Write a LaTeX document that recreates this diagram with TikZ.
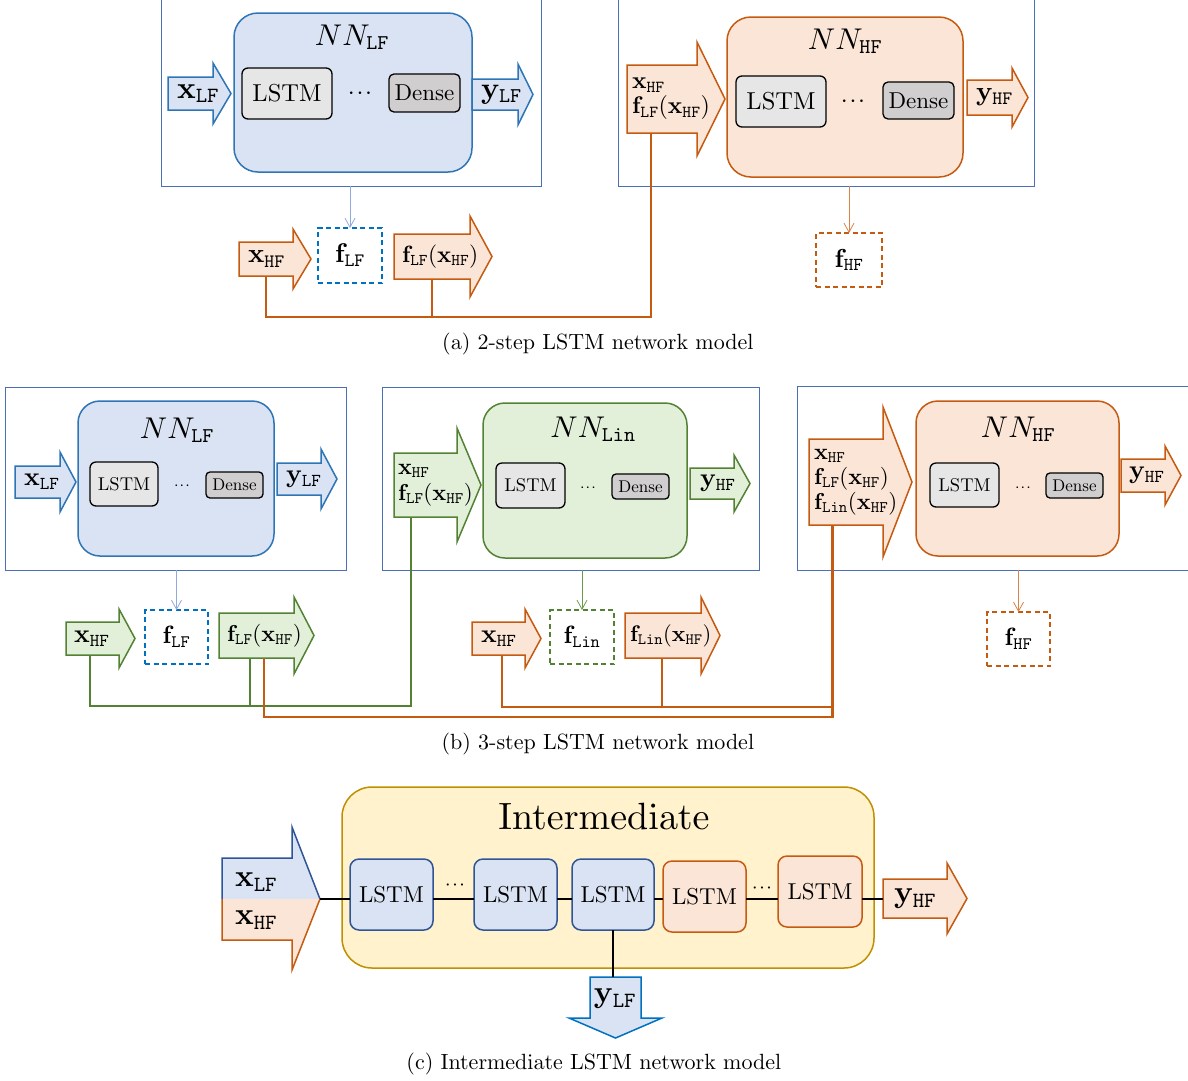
\RequirePackage{fix-cm}
\documentclass[tikz,border=0pt]{standalone}
\usetikzlibrary{arrows.meta,calc}
\DeclareFontShape{OT1}{cmr}{m}{n}{<->cmr10}{}
\DeclareFontShape{OT1}{cmr}{bx}{n}{<->cmbx10}{}
\DeclareFontShape{OML}{cmm}{m}{it}{<->cmmi10}{\skewchar\font127 }
\DeclareFontShape{OT1}{cmtt}{m}{n}{<->cmtt10}{\hyphenchar\font=-1 }
\DeclareFontShape{OMS}{cmsy}{m}{n}{<->cmsy10}{\skewchar\font48 }
\definecolor{bfill}{HTML}{DAE3F3}
\definecolor{bline}{HTML}{2E75B6}
\definecolor{bline2}{HTML}{0070C0}
\definecolor{dblue}{HTML}{2F5597}
\definecolor{ofill}{HTML}{FBE5D6}
\definecolor{oline}{HTML}{C55A11}
\definecolor{gfill}{HTML}{E2F0D9}
\definecolor{gline}{HTML}{548235}
\definecolor{yfill}{HTML}{FFF2CC}
\definecolor{yline}{HTML}{BF9000}
\definecolor{lgray}{HTML}{E7E6E6}
\definecolor{dgray}{HTML}{D0CECE}
\definecolor{framec}{HTML}{4A6FB5}
\definecolor{thinb}{HTML}{8FAADC}
\definecolor{thing}{HTML}{6A9A4A}
\definecolor{thino}{HTML}{D9824A}
\newcommand{\fsz}[1]{\fontsize{#1}{#1}\selectfont}
% name, style, x0, x1, x2, ybody-top, ybody-bottom, head-extend
\newcommand{\barrow}[8]{%
  \draw[#2] (#3,#6) -- (#4,#6) -- (#4,{#6-#8}) -- (#5,{(#6+#7)/2}) -- (#4,{#7+#8}) -- (#4,#7) -- (#3,#7) -- cycle;
  \node[inner sep=0pt, outer sep=0pt, minimum width={#4-#3}, minimum height={#7-#6}, anchor=north west] (#1) at (#3,#6) {};
}
\tikzset{
  frm/.style={draw=framec, line width=1pt, inner sep=0pt, outer sep=0pt},
  nnbox/.style={rounded corners=24pt, line width=1.5pt, inner sep=0pt, outer sep=0pt},
  lstmbox/.style={draw=black, fill=lgray, rounded corners=6pt, line width=1.3pt, inner sep=0pt, outer sep=0pt},
  densebox/.style={draw=black, fill=dgray, rounded corners=5pt, line width=1.3pt, inner sep=0pt, outer sep=0pt},
  dbox/.style={dash pattern=on 5pt off 3.5pt, line width=1.5pt, inner sep=0pt, outer sep=0pt},
  barB/.style={fill=bfill, draw=bline, line width=1.5pt},
  barO/.style={fill=ofill, draw=oline, line width=1.5pt},
  barG/.style={fill=gfill, draw=gline, line width=1.5pt},
  conn/.style={line width=2.5pt},
  cconn/.style={line width=2pt, draw=black},
  thinarr/.style={line width=0.8pt, -{Straight Barb[length=9pt,width=10pt]}},
  atext/.style={anchor=west, inner sep=0pt, outer sep=0pt},
  mtext/.style={anchor=west, inner sep=0pt, outer sep=0pt, align=left},
  cell/.style={rounded corners=9pt, line width=1.5pt, inner sep=0pt, outer sep=0pt, minimum width=83, minimum height=71, font={\fsz{23}}},
  captext/.style={font={\fsz{22}}, inner sep=0pt},
  dotsn/.style={inner sep=0pt, outer sep=0pt},
}
\begin{document}
\fontencoding{OT1}\fontfamily{cmr}\selectfont
\begin{tikzpicture}[x=1pt,y=-1pt]
\useasboundingbox (0,0) rectangle (1188,1080);
\clip (0,0) rectangle (1188,1080);
\fill[white] (0,0) rectangle (1188,1080);

% ================= (a) =================
\node[frm, minimum width=380, minimum height=190] (frA1) at (351,91) {};
\node[frm, minimum width=416, minimum height=190] (frA2) at (826,91) {};

\node[nnbox, fill=bfill, draw=bline, minimum width=238, minimum height=159] (nnA1) at (353,92.5) {};
\node[font={\fsz{30}}, inner sep=0pt] (nnA1-t) at (352,37) {$NN_{\mathtt{LF}}$};
\node[lstmbox, minimum width=90, minimum height=51, font={\fsz{24.5}}] (lstmA1) at (287,93.5) {LSTM};
\node[dotsn, font={\fsz{17}\boldmath}] (dotsA1) at (360,93) {$\cdots$};
\node[densebox, minimum width=71, minimum height=38, font={\fsz{23}}] (denseA1) at (424.5,93) {Dense};
\barrow{xlfA}{barB}{168}{213}{231}{77}{110}{14}
\node[atext, font={\fsz{31}}] (xlfA-t) at ([xshift=9]xlfA.west) {$\mathbf{x}_{\mathtt{LF}}$};
\barrow{ylfA}{barB}{472}{518}{533}{79}{110}{15}
\node[atext, font={\fsz{30}}] (ylfA-t) at ([xshift=9]ylfA.west) {$\mathbf{y}_{\mathtt{LF}}$};

\node[nnbox, fill=ofill, draw=oline, minimum width=236, minimum height=160] (nnA2) at (845,97) {};
\node[font={\fsz{30}}, inner sep=0pt] (nnA2-t) at (845,41) {$NN_{\mathtt{HF}}$};
\node[lstmbox, minimum width=90, minimum height=51, font={\fsz{24.5}}] (lstmA2) at (781,101.5) {LSTM};
\node[dotsn, font={\fsz{17}\boldmath}] (dotsA2) at (853,101) {$\cdots$};
\node[densebox, minimum width=71, minimum height=37, font={\fsz{23}}] (denseA2) at (918.5,100.5) {Dense};
\barrow{inA2}{barO}{627}{697}{725}{65}{133}{23}
\node[mtext, font={\fontsize{24}{25}\selectfont}] (inA2-t) at ([xshift=5]inA2.west) {$\mathbf{x}_{\mathtt{HF}}$\\$\mathbf{f}_{\mathtt{LF}}(\mathbf{x}_{\mathtt{HF}})$};
\barrow{yhfA}{barO}{967}{1012}{1028}{80}{115}{12}
\node[atext, font={\fsz{27}}] (yhfA-t) at ([xshift=9]yhfA.west) {$\mathbf{y}_{\mathtt{HF}}$};

% lower (a)
\barrow{xhfA}{barO}{239}{293}{311}{242}{276}{13}
\node[atext, font={\fsz{27}}] (xhfA-t) at ([xshift=9]xhfA.west) {$\mathbf{x}_{\mathtt{HF}}$};
\node[dbox, draw=bline2, minimum width=64, minimum height=55, font={\fsz{27}}] (fLFa) at (350,255.5) {$\mathbf{f}_{\mathtt{LF}}$};
\barrow{flfxA}{barO}{394}{470}{492}{234}{279}{18}
\node[atext, font={\fsz{23.5}}] (flfxA-t) at ([xshift=8]flfxA.west) {$\mathbf{f}_{\mathtt{LF}}(\mathbf{x}_{\mathtt{HF}})$};
\node[dbox, draw=oline, minimum width=66, minimum height=54, font={\fsz{26}}] (fHFa) at (849,260) {$\mathbf{f}_{\mathtt{HF}}$};

\draw[thinarr, draw=thinb] (frA1.south -| fLFa.north) -- (fLFa.north);
\draw[thinarr, draw=thino] (frA2.south -| fHFa.north) -- (fHFa.north);

\coordinate (busA) at (0,317);
\coordinate (inA2-p) at ($(inA2.south west)!0.34!(inA2.south east)$);
\draw[conn, draw=oline] (xhfA.south) -- (xhfA.south |- busA) -- (busA -| inA2-p) -- (inA2-p);
\draw[conn, draw=oline] (flfxA.south) -- (flfxA.south |- busA);

\node[captext] (capA) at (598,344) {(a) 2-step LSTM network model};

% ================= (b) =================
\node[frm, minimum width=341, minimum height=183] (frB1) at (175.5,478.5) {};
\node[frm, minimum width=377, minimum height=183] (frB2) at (570.5,478.5) {};
\node[frm, minimum width=400, minimum height=184] (frB3) at (997,478) {};

% NN_LF
\node[nnbox, fill=bfill, draw=bline, rounded corners=22pt, minimum width=196, minimum height=155] (nnB1) at (176,478.5) {};
\node[font={\fsz{30}}, inner sep=0pt] (nnB1-t) at (177,430) {$NN_{\mathtt{LF}}$};
\node[lstmbox, minimum width=68, minimum height=44, font={\fsz{18.5}}] (lstmB1) at (124,484) {LSTM};
\node[dotsn, font={\fsz{11}\boldmath}] (dotsB1) at (182,486) {$\cdots$};
\node[densebox, minimum width=57, minimum height=26, rounded corners=4pt, font={\fsz{17}}] (denseB1) at (234.5,485) {Dense};
\barrow{xlfB}{barB}{15}{60}{76}{466}{498}{14}
\node[atext, font={\fsz{26}}] (xlfB-t) at ([xshift=9]xlfB.west) {$\mathbf{x}_{\mathtt{LF}}$};
\barrow{ylfB}{barB}{277}{321}{337}{463}{495}{14}
\node[atext, font={\fsz{26}}] (ylfB-t) at ([xshift=9]ylfB.west) {$\mathbf{y}_{\mathtt{LF}}$};

% NN_Lin
\node[nnbox, fill=gfill, draw=gline, rounded corners=22pt, minimum width=204, minimum height=155] (nnB2) at (585,480.5) {};
\node[font={\fsz{30}}, inner sep=0pt] (nnB2-t) at (593,429) {$NN_{\mathtt{Lin}}$};
\node[lstmbox, minimum width=69, minimum height=45, font={\fsz{18.5}}] (lstmB2) at (530.5,485.5) {LSTM};
\node[dotsn, font={\fsz{11}\boldmath}] (dotsB2) at (588,488) {$\cdots$};
\node[densebox, minimum width=57, minimum height=25, rounded corners=4pt, font={\fsz{17}}] (denseB2) at (640.5,486.5) {Dense};
\barrow{inB2}{barG}{394}{457}{481}{453}{517}{25}
\node[mtext, font={\fontsize{23}{26}\selectfont}] (inB2-t) at ([xshift=4]inB2.west) {$\mathbf{x}_{\mathtt{HF}}$\\$\mathbf{f}_{\mathtt{LF}}(\mathbf{x}_{\mathtt{HF}})$};
\barrow{yhfB2}{barG}{690}{734}{750}{468}{499}{13}
\node[atext, font={\fsz{26}}] (yhfB2-t) at ([xshift=10]yhfB2.west) {$\mathbf{y}_{\mathtt{HF}}$};

% NN_HF
\node[nnbox, fill=ofill, draw=oline, rounded corners=22pt, minimum width=203, minimum height=155] (nnB3) at (1017.5,478.5) {};
\node[font={\fsz{30}}, inner sep=0pt] (nnB3-t) at (1018,429) {$NN_{\mathtt{HF}}$};
\node[lstmbox, minimum width=69, minimum height=44, font={\fsz{18.5}}] (lstmB3) at (964.5,485) {LSTM};
\node[dotsn, font={\fsz{11}\boldmath}] (dotsB3) at (1023,488) {$\cdots$};
\node[densebox, minimum width=57, minimum height=25, rounded corners=4pt, font={\fsz{17}}] (denseB3) at (1074.5,485.5) {Dense};
\barrow{inB3}{barO}{809}{883}{912}{439}{525}{32}
\node[mtext, font={\fontsize{23}{25}\selectfont}] (inB3-t) at ([xshift=5]inB3.west) {$\mathbf{x}_{\mathtt{HF}}$\\$\mathbf{f}_{\mathtt{LF}}(\mathbf{x}_{\mathtt{HF}})$\\$\mathbf{f}_{\mathtt{Lin}}(\mathbf{x}_{\mathtt{HF}})$};
\barrow{yhfB3}{barO}{1121}{1165}{1181}{459}{492}{13}
\node[atext, font={\fsz{26}}] (yhfB3-t) at ([xshift=8]yhfB3.west) {$\mathbf{y}_{\mathtt{HF}}$};

% lower (b)
\barrow{xhfB1}{barG}{66}{119}{135}{622}{655}{13}
\node[atext, font={\fsz{26}}] (xhfB1-t) at ([xshift=8]xhfB1.west) {$\mathbf{x}_{\mathtt{HF}}$};
\node[dbox, draw=bline2, minimum width=63, minimum height=54, font={\fsz{25}}] (fLFb) at (176.5,637) {$\mathbf{f}_{\mathtt{LF}}$};
\barrow{flfxB}{barG}{219}{294}{314}{613}{658}{16}
\node[atext, font={\fsz{23}}] (flfxB-t) at ([xshift=8]flfxB.west) {$\mathbf{f}_{\mathtt{LF}}(\mathbf{x}_{\mathtt{HF}})$};

\barrow{xhfB2}{barO}{472}{525}{541}{622}{655}{13}
\node[atext, font={\fsz{26}}] (xhfB2-t) at ([xshift=9]xhfB2.west) {$\mathbf{x}_{\mathtt{HF}}$};
\node[dbox, draw=gline, minimum width=64, minimum height=54, font={\fsz{25}}] (fLinb) at (582,637) {$\mathbf{f}_{\mathtt{Lin}}$};
\barrow{flinx}{barO}{625}{701}{720}{613}{658}{16}
\node[atext, font={\fsz{22.5}}] (flinx-t) at ([xshift=5]flinx.west) {$\mathbf{f}_{\mathtt{Lin}}(\mathbf{x}_{\mathtt{HF}})$};

\node[dbox, draw=oline, minimum width=63, minimum height=54, font={\fsz{25}}] (fHFb) at (1018.5,639) {$\mathbf{f}_{\mathtt{HF}}$};

\draw[thinarr, draw=thinb] (frB1.south -| fLFb.north) -- (fLFb.north);
\draw[thinarr, draw=thing] (frB2.south -| fLinb.north) -- (fLinb.north);
\draw[thinarr, draw=thino] (frB3.south -| fHFb.north) -- (fHFb.north);

\coordinate (busG) at (0,706);
\coordinate (busO1) at (0,707);
\coordinate (busO2) at (0,717);
\coordinate (xhfB1-p) at ($(xhfB1.south west)!0.45!(xhfB1.south east)$);
\coordinate (flfxB-pg) at ($(flfxB.south west)!0.41!(flfxB.south east)$);
\coordinate (flfxB-po) at ($(flfxB.south west)!0.60!(flfxB.south east)$);
\coordinate (inB2-p) at ($(inB2.south west)!0.27!(inB2.south east)$);
\coordinate (inB3-p) at ($(inB3.south west)!0.32!(inB3.south east)$);
\coordinate (xhfB2-p) at ($(xhfB2.south west)!0.57!(xhfB2.south east)$);
\coordinate (flinx-p) at ($(flinx.south west)!0.49!(flinx.south east)$);

\draw[conn, draw=gline] (xhfB1-p) -- (xhfB1-p |- busG) -- (busG -| inB2-p) -- (inB2-p);
\draw[conn, draw=gline] (flfxB-pg) -- (flfxB-pg |- busG);
\draw[conn, draw=oline] (flfxB-po) -- (flfxB-po |- busO2) -- (busO2 -| inB3-p) -- (inB3-p);
\draw[conn, draw=oline] (xhfB2-p) -- (xhfB2-p |- busO1) -- (busO1 -| inB3-p);
\draw[conn, draw=oline] (flinx-p) -- (flinx-p |- busO1);

\node[captext] (capB) at (598,744) {(b) 3-step LSTM network model};

% ================= (c) =================
\node[draw=yline, fill=yfill, rounded corners=30pt, line width=1.5pt, inner sep=0pt, minimum width=532, minimum height=181] (ybox) at (608,877.5) {};
\node[font={\fsz{38}}, inner sep=0pt] (ybox-t) at (604,816) {Intermediate};

\coordinate (cin-tip) at (320,899);
% two-coloured input arrow
\fill[bfill] (222,899) -- (222,858) -- (292,858) -- (292,827) -- (cin-tip) -- cycle;
\fill[ofill] (222,899) -- (222,940) -- (292,940) -- (292,970) -- (cin-tip) -- cycle;
\draw[dblue, line width=1.5pt] (222,899) -- (222,858) -- (292,858) -- (292,827) -- (cin-tip);
\draw[oline, line width=1.5pt] (222,899) -- (222,940) -- (292,940) -- (292,970) -- (cin-tip);
\node[inner sep=0pt, outer sep=0pt, minimum width=70, minimum height=82, anchor=north west] (cin) at (222,858) {};
\node[atext, font={\fsz{31}}] (cin-t1) at (235,882) {$\mathbf{x}_{\mathtt{LF}}$};
\node[atext, font={\fsz{31}}] (cin-t2) at (235,920) {$\mathbf{x}_{\mathtt{HF}}$};

\node[cell, fill=bfill, draw=dblue] (c1) at (391.5,894.5) {LSTM};
\node[cell, fill=bfill, draw=dblue] (c2) at (515.5,894.5) {LSTM};
\node[cell, fill=bfill, draw=dblue, minimum width=82] (c3) at (613,894.5) {LSTM};
\node[cell, fill=ofill, draw=oline] (c4) at (704.5,896.5) {LSTM};
\node[cell, fill=ofill, draw=oline, minimum width=84] (c5) at (820,891.5) {LSTM};
\node[dotsn, font={\fsz{14}\boldmath}] (dotsC1) at (455,885) {$\cdots$};
\node[dotsn, font={\fsz{14}\boldmath}] (dotsC2) at (762,888) {$\cdots$};

\barrow{yhfC}{barO}{883}{947}{967}{879}{918}{16}
\node[atext, font={\fsz{31}}] (yhfC-t) at ([xshift=11]yhfC.west) {$\mathbf{y}_{\mathtt{HF}}$};

\draw[fill=bfill, draw=bline2, line width=1.5pt] (590,977) -- (641,977) -- (641,1018) -- (662,1018) -- (615.5,1038) -- (569,1018) -- (590,1018) -- cycle;
\node[inner sep=0pt, outer sep=0pt, minimum width=51, minimum height=41, anchor=north west] (ylfC) at (590,977) {};
\node[font={\fsz{31}}, inner sep=0pt] (ylfC-t) at (615,999) {$\mathbf{y}_{\mathtt{LF}}$};

\draw[cconn] (cin-tip) -- (cin-tip -| c1.west);
\draw[cconn] (c1.east |- cin-tip) -- (c2.west |- cin-tip);
\draw[cconn] (c2.east |- cin-tip) -- (c3.west |- cin-tip);
\draw[cconn] (c3.east |- cin-tip) -- (c4.west |- cin-tip);
\draw[cconn] (c4.east |- cin-tip) -- (c5.west |- cin-tip);
\draw[cconn] (c5.east |- cin-tip) -- (yhfC.west |- cin-tip);
\draw[cconn] (c3.south) -- (c3.south |- ylfC.north);

\node[captext] (capC) at (594,1064) {(c) Intermediate LSTM network model};
\end{tikzpicture}
\end{document}
